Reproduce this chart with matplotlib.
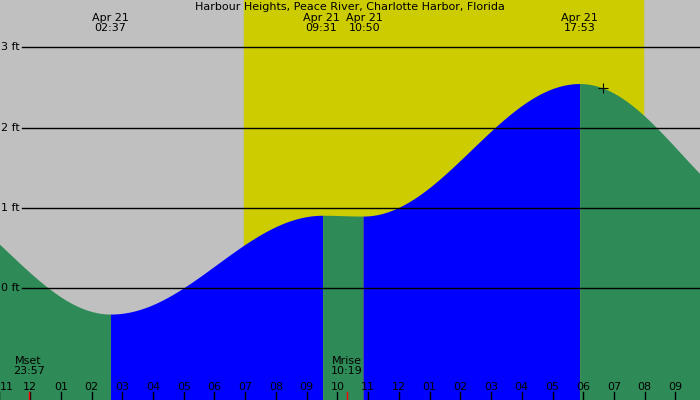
import numpy as np
import matplotlib
matplotlib.use("Agg")
import matplotlib.pyplot as plt

title = "Harbour Heights, Peace River, Charlotte Harbor, Florida"
# extremes: hours since midnight Apr 21, height ft (first/last are off-chart guides)
ext_t = [-4.0, 2.617, 9.517, 10.833, 17.883, 24.5]
ext_h = [1.2, -0.32, 0.91, 0.90, 2.55, 0.8]
ext_lab = ["02:37", "09:31", "10:50", "17:53"]
day_start, day_end = 6.96, 19.93
moon_t = [-0.05, 10.317]
moon_lab = [("Mset", "23:57"), ("Mrise", "10:19")]
hour_labels = ["11", "12", "01", "02", "03", "04", "05", "06", "07", "08", "09", "10", "11",
               "12", "01", "02", "03", "04", "05", "06", "07", "08", "09"]
ft_levels = [0, 1, 2, 3]
marker = (18.65, 2.5)

x0, x1 = -0.98, 21.8
y0, y1 = -1.39, 3.59
fig = plt.figure(figsize=(7, 4), dpi=100)
ax = fig.add_axes([0, 0, 1, 1])
ax.set_xlim(x0, x1); ax.set_ylim(y0, y1); ax.axis("off")
ax.axvspan(x0, x1, color="#C0C0C0", zorder=0)
ax.axvspan(day_start, day_end, color="#CCCC00", zorder=0)

fs = 8
for i in range(len(ext_t) - 1):
    ta, tb = ext_t[i], ext_t[i + 1]
    ha, hb = ext_h[i], ext_h[i + 1]
    t = np.linspace(ta, tb, 200)
    h = hb + (ha - hb) * (1 + np.cos(np.pi * (t - ta) / (tb - ta))) / 2
    col = "#0000FF" if hb > ha else "#2E8B57"
    ax.fill_between(t, y0, h, color=col, lw=0, zorder=2)

for lv in ft_levels:
    ax.plot([-0.25, x1], [lv, lv], color="black", lw=1, zorder=3)
    ax.text(-0.95, lv, f"{lv} ft", fontsize=fs, va="center", ha="left", zorder=4)

ax.text((x0 + x1) / 2, 3.565, title, fontsize=fs, ha="center", va="top")
offs = [0, -0.05, 0.05, 0]
for t, lab, o in zip(ext_t[1:-1], ext_lab, offs):
    ax.text(t + o, 3.43, "Apr 21\n" + lab, fontsize=fs, ha="center", va="top", linespacing=1.0)

for i, lab in enumerate(hour_labels):
    t = i - 1
    ha = "left" if i == 0 else "center"
    ax.text(t if i else x0, y0 + 0.1, lab, fontsize=fs, ha=ha, va="bottom")
    ax.plot([t, t], [y0, y0 + 0.1], color="black", lw=1, zorder=4)
for t, (a, b) in zip(moon_t, moon_lab):
    ax.plot([t, t], [y0, y0 + 0.1], color="red", lw=1, zorder=5)
    ax.text(t, y0 + 0.3, a + "\n" + b, fontsize=fs, ha="center", va="bottom", linespacing=1.0)

ax.plot(*marker, marker="+", color="black", ms=7, mew=0.8, zorder=5)
fig.savefig("out.png", dpi=100)
